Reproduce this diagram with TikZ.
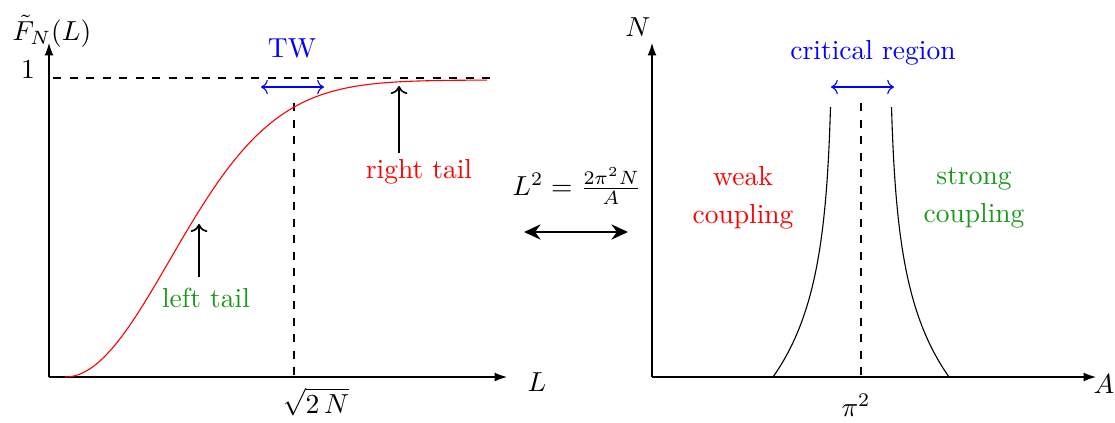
\documentclass[tikz,border=0pt]{standalone}
\usetikzlibrary{arrows.meta}
\definecolor{dgreen}{rgb}{0.1,0.6,0.1}
\begin{document}
\begin{tikzpicture}[x=0.3636pt,y=-0.3636pt,
  axis/.style={-{Latex[length=4.5pt,width=3.2pt]}},
  pointer/.style={->,semithick},
  span/.style={<->,blue},
  guide/.style={dashed},
  lbl/.style={inner sep=0pt}]
\useasboundingbox (0,0) rectangle (1115,422);
% ---------- left plot ----------
\coordinate (O1) at (49,377);
\coordinate (Ytop1) at (49,43);
\coordinate (Xend1) at (507,377);
\draw[axis] (O1) -- (Ytop1);
\draw[axis] (O1) -- (Xend1);
\node[lbl] (F) at (52,31) {$\tilde{F}_N(L)$};
\node[lbl] (one) at (28,70) {$1$};
\node[lbl] (L) at (537,382) {$L$};
\coordinate (h1) at (53,78);
\coordinate (h2) at (492,78);
\draw[guide] (h1) -- (h2);
\node[lbl,text=blue] (TW) at (292,48) {TW};
\coordinate (tw1) at (261,87);
\coordinate (tw2) at (324,87);
\draw[span] (tw1) -- (tw2);
\coordinate (v1) at (294,103);
\coordinate (v1b) at (294,377);
\draw[guide] (v1) -- (v1b);
\node[lbl] (sq) at (316,402) {$\sqrt{2\,N}$};
\draw[red] plot[domain=65:487,samples=120,variable=\t]
  (\t,{377-297*(1-exp(-((\t-65)/148)^2))});
\node[lbl,text=dgreen] (lt) at (206,298) {left tail};
\coordinate (lta) at (199,277);
\coordinate (ltb) at (199,224);
\draw[pointer] (lta) -- (ltb);
\node[lbl,text=red] (rt) at (419,172) {right tail};
\coordinate (rta) at (399,153);
\coordinate (rtb) at (399,86);
\draw[pointer] (rta) -- (rtb);
% ---------- middle ----------
\node[lbl] (eq) at (577,186) {$L^2=\frac{2\pi^2N}{A}$};
\coordinate (m1) at (524,232);
\coordinate (m2) at (628,232);
\draw[{Stealth[length=6pt,width=5.5pt]}-{Stealth[length=6pt,width=5.5pt]},line width=0.8pt] (m1) -- (m2);
% ---------- right plot ----------
\coordinate (O2) at (652,377);
\coordinate (Ytop2) at (652,43);
\coordinate (Xend2) at (1096,377);
\draw[axis] (O2) -- (Ytop2);
\draw[axis] (O2) -- (Xend2);
\node[lbl] (N) at (638,27) {$N$};
\node[lbl] (A) at (1104,384) {$A$};
\node[lbl,text=blue] (cr) at (873,53) {critical region};
\coordinate (cr1) at (831,87);
\coordinate (cr2) at (894,87);
\draw[span] (cr1) -- (cr2);
\coordinate (v2) at (861,103);
\coordinate (v2b) at (861,377);
\draw[guide] (v2) -- (v2b);
\node[lbl] (pi) at (856,405) {$\pi^2$};
\draw plot[domain=0:270,samples=80,variable=\h]
  ({861-(28+60*exp(-\h/85))},{377-\h});
\draw plot[domain=0:270,samples=80,variable=\h]
  ({861+(28+60*exp(-\h/85))},{377-\h});
\node[lbl,text=red,align=center] (wc) at (743,198) {weak\\[2pt]coupling};
\node[lbl,text=dgreen,align=center] (sc) at (974,198) {strong\\[2pt]coupling};
\end{tikzpicture}
\end{document}
